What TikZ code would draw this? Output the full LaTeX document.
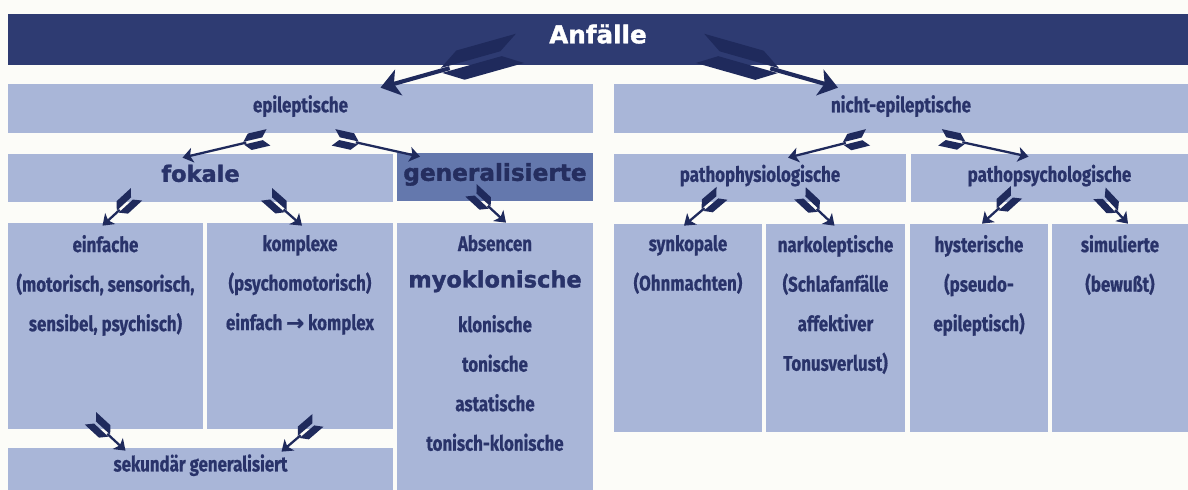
\documentclass[tikz,border=0pt]{standalone}
\usepackage{fontspec}
\usetikzlibrary{positioning, calc, fit}
\newfontfamily\condfont[FakeStretch=0.8, BoldFeatures={FakeBold=0.6}]{Fira Sans}
\newfontfamily\heavyfont[BoldFeatures={FakeBold=1.6}]{DejaVu Sans}
\definecolor{paper}{HTML}{FCFCF8}
\definecolor{anfnavy}{HTML}{2E3B72}
\definecolor{anfdark}{HTML}{1F2A5C}
\definecolor{anflight}{HTML}{A9B6D8}
\definecolor{anfmid}{HTML}{6478AD}
\definecolor{anftext}{HTML}{29336A}

% feathered arrow: #1 head/width factor, #2 vane length factor, #3 tail, #4 tip
\newcommand{\fletcharrow}[4]{%
  \coordinate (fs) at (#3);
  \coordinate (ft) at (#4);
  \draw[anfdark, line width=#1*1.3pt] ($(fs)!{#2*13pt}!(ft)$) -- ($(ft)!{#1*4pt}!(fs)$);
  \fill[anfdark] (ft) -- ($(ft)!{#1*6pt}!(fs)!{#1*4.3pt}!90:(fs)$) -- ($(ft)!{#1*4.4pt}!(fs)$)
      -- ($(ft)!{#1*6pt}!(fs)!{#1*4.3pt}!-90:(fs)$) -- cycle;
  \fill[anfdark] ($(fs)!{#2*3.5pt}!(ft)!{#1*0.8pt}!90:(ft)$) -- ($(fs)!{#2*14.5pt}!(ft)!{#1*0.8pt}!90:(ft)$)
      -- ($(fs)!{#2*11pt}!(ft)!{#1*4.8pt}!90:(ft)$) -- ($(fs)!{#1*0.01pt}!(ft)!{#1*4.8pt}!90:(ft)$) -- cycle;
  \fill[anfdark] ($(fs)!{#2*3.5pt}!(ft)!{#1*0.8pt}!-90:(ft)$) -- ($(fs)!{#2*14.5pt}!(ft)!{#1*0.8pt}!-90:(ft)$)
      -- ($(fs)!{#2*11pt}!(ft)!{#1*4.8pt}!-90:(ft)$) -- ($(fs)!{#1*0.01pt}!(ft)!{#1*4.8pt}!-90:(ft)$) -- cycle;
}

\begin{document}
\begin{tikzpicture}[
    x=0.02cm, y=-0.02cm,
    box/.style={fill=anflight, inner sep=0pt, draw=none},
    head/.style={font=\condfont\bfseries\fontsize{12}{22.5}\selectfont, text=anftext, inner sep=0pt, anchor=mid},
    lines/.style={font=\condfont\bfseries\fontsize{12}{22.5}\selectfont, text=anftext, inner sep=0pt, align=center, anchor=north},
    heavy/.style={font=\heavyfont\bfseries\fontsize{12.8}{15}\selectfont, text=anftext, inner sep=0pt, anchor=mid},
]

% Background
\fill[paper] (0,0) rectangle (1188,490);
\useasboundingbox (0,0) rectangle (1188,490);

% --- Title bar ---
\node[box, fill=anfnavy, fit={(8,14) (1188,65)}] (top) {};
\node[font=\heavyfont\bfseries\fontsize{14}{16}\selectfont, text=white, inner sep=0pt, anchor=mid] (top-t) at (top) {Anfälle};

% --- Level 1 ---
\node[box, fit={(8,84) (593,133)}] (epi) {};
\node[box, fit={(614,84) (1188,133)}] (nicht) {};
\node[head] (epi-t) at (epi) {epileptische};
\node[head] (nicht-t) at (nicht) {nicht-epileptische};

% --- Level 2 ---
\node[box, fit={(8,154) (393,202)}] (fokal) {};
\node[box, fill=anfmid, fit={(397,153) (593,201)}] (gen) {};
\node[box, fit={(614,154) (906,202)}] (pphys) {};
\node[box, fit={(911,154) (1188,202)}] (ppsych) {};
\node[heavy] (fokal-t) at (fokal) {fokale};
\node[heavy, font=\heavyfont\bfseries\fontsize{13.2}{15}\selectfont, text=anftext!90!black] (gen-t) at (gen) {generalisierte};
\node[head] (pphys-t) at (pphys) {pathophysiologische};
\node[head] (ppsych-t) at (ppsych) {pathopsychologische};

% --- Level 3 ---
\node[box, fit={(8,223) (203,429)}] (einf) {};
\node[box, fit={(207,223) (393,429)}] (kompl) {};
\node[box, fit={(397,223) (593,490)}] (gensub) {};
\node[box, fit={(8,448) (393,490)}] (sek) {};
\node[box, fit={(614,224) (762,432)}] (synk) {};
\node[box, fit={(766,224) (905,432)}] (narko) {};
\node[box, fit={(910,224) (1048,432)}] (hyst) {};
\node[box, fit={(1052,224) (1188,432)}] (simul) {};

\node[lines] (einf-t) at ([shift={(0,12)}]einf.north) {einfache\\(motorisch, sensorisch,\\sensibel, psychisch)};
\node[lines] (kompl-t) at ([shift={(0,12)}]kompl.north) {komplexe\\(psychomotorisch)\\einfach {\heavyfont\bfseries →} komplex};
\node[lines] (absenz-t) at ([shift={(0,12)}]gensub.north) {Absencen};
\node[heavy] (myo-t) at ([shift={(0,61)}]gensub.north) {myoklonische};
\node[lines] (klon-t) at ([shift={(0,92)}]gensub.north) {klonische\\tonische\\astatische\\tonisch-klonische};
\node[head] (sek-t) at ([shift={(0,20)}]sek.north) {sekundär generalisiert};
\node[lines] (synk-t) at ([shift={(0,11)}]synk.north) {synkopale\\(Ohnmachten)};
\node[lines] (narko-t) at ([shift={(0,11)}]narko.north) {narkoleptische\\(Schlafanfälle\\affektiver\\Tonusverlust)};
\node[lines] (hyst-t) at ([shift={(0,11)}]hyst.north) {hysterische\\(pseudo-\\epileptisch)};
\node[lines] (simul-t) at ([shift={(0,11)}]simul.north) {simulierte\\(bewußt)};

% --- Arrows ---
\fletcharrow{1.8}{3.2}{[shift={(-78,-17)}]top.south}{[shift={(80,4)}]epi.north}
\fletcharrow{1.8}{3.2}{[shift={(102,-17)}]top.south}{[shift={(-63,4)}]nicht.north}

\fletcharrow{1}{1}{[shift={(-32,4)}]epi.south}{[shift={(-18,4)}]fokal.north}
\fletcharrow{1}{1}{[shift={(33,4)}]epi.south}{[shift={(-75,4)}]gen.north}
\fletcharrow{1}{1}{[shift={(-33,4)}]nicht.south}{[shift={(28,4)}]pphys.north}
\fletcharrow{1}{1}{[shift={(39,4)}]nicht.south}{[shift={(-21,3)}]ppsych.north}

\fletcharrow{1}{1}{[shift={(-64,-8)}]fokal.south}{[shift={(-3,3)}]einf.north}
\fletcharrow{1}{1}{[shift={(66,-8)}]fokal.south}{[shift={(2,3)}]kompl.north}
\fletcharrow{1}{1}{[shift={(-24,-11)}]gen.south}{[shift={(11,0)}]gensub.north}
\fletcharrow{1}{1}{[shift={(-38,-9)}]pphys.south}{[shift={(-4,2)}]synk.north}
\fletcharrow{1}{1}{[shift={(40,-9)}]pphys.south}{[shift={(-1,2)}]narko.north}
\fletcharrow{1}{1}{[shift={(-33,-10)}]ppsych.south}{[shift={(3,0)}]hyst.north}
\fletcharrow{1}{1}{[shift={(50,-9)}]ppsych.south}{[shift={(8,0)}]simul.north}

\fletcharrow{1}{1}{[shift={(-15,-11)}]einf.south}{[shift={(-75,3)}]sek.north}
\fletcharrow{1}{1}{[shift={(18,-9)}]kompl.south}{[shift={(81,4)}]sek.north}

\end{tikzpicture}
\end{document}
